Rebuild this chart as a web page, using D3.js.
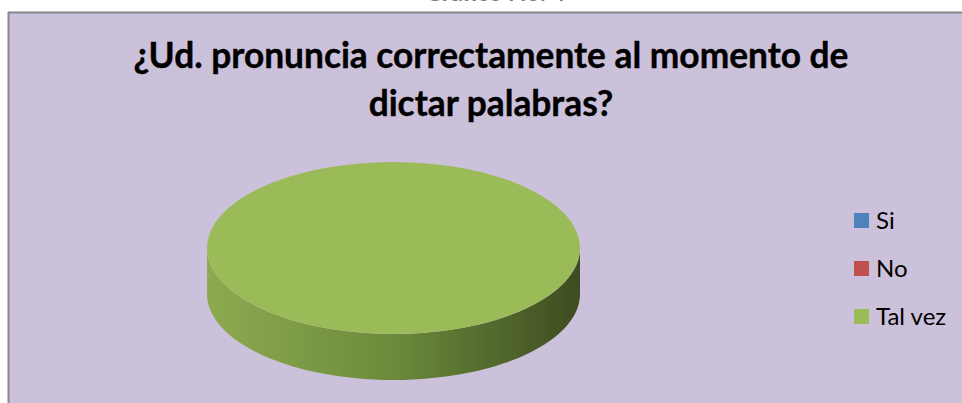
<!DOCTYPE html>
<html>
<head>
<meta charset="utf-8">
<script src="https://cdn.jsdelivr.net/npm/d3@7"></script>
<style>
  body { margin: 0; background: #fff; }
  svg { display: block; }
</style>
</head>
<body>
<svg></svg>
<script>
var width = 962;
var height = 403;

var categories = ['Si', 'No', 'Tal vez'];
var values = [0, 0, 100];
var colors = ['#4F81BD', '#C0504D', '#9BBB59'];
var titleLines = ['¿Ud. pronuncia correctamente al momento de', 'dictar palabras?'];
var caption = 'Gráfico No. 4';

var svg = d3.select('svg')
			.attr('width', width)
			.attr('height', height);

// caption above the frame, mostly cut off by the page edge
svg.append('text')
  .attr('x', 495)
  .attr('y', 0.5)
  .attr('text-anchor', 'middle')
  .attr('font-family', 'Lato, sans-serif')
  .attr('font-weight', 'bold')
  .attr('font-size', 24)
  .attr('fill', '#777')
  .text(caption);

// chart area
svg.append('rect')
  .attr('x', 8)
  .attr('y', 12)
  .attr('width', width)
  .attr('height', height)
  .attr('fill', '#CCC1DA');
svg.append('line')
  .attr('x1', 8).attr('x2', width)
  .attr('y1', 12.5).attr('y2', 12.5)
  .attr('stroke', '#878787').attr('stroke-width', 2);
svg.append('line')
  .attr('x1', 8.5).attr('x2', 8.5)
  .attr('y1', 12).attr('y2', height)
  .attr('stroke', '#878787').attr('stroke-width', 2);

// title
var title = svg.append('g');
titleLines.forEach((t, i) => {
	title.append('text')
	  .attr('x', 491)
	  .attr('y', 68 + i * 48)
	  .attr('text-anchor', 'middle')
	  .attr('font-family', 'Lato, sans-serif')
	  .attr('font-weight', 'bold')
	  .attr('font-size', 34)
	  .attr('fill', '#000')
	  .attr('stroke', '#000')
	  .attr('stroke-width', 0.4)
	  .text(t);
});
// fit first line to the width it has in the original
var first = title.select('text').node();
var fs = 34 * 715 / first.getComputedTextLength();
title.selectAll('text').attr('font-size', fs);

// 3d pie
var cx = 393.5, cy = 248, rx = 186.5, ry = 86, depth = 46;
var scaleY = ry / rx;

var defs = svg.append('defs');
var grad = defs.append('linearGradient')
  .attr('id', 'side')
  .attr('x1', '0%').attr('x2', '100%')
  .attr('y1', '0%').attr('y2', '0%');
grad.append('stop').attr('offset', '0%').attr('stop-color', '#8EAA50');
grad.append('stop').attr('offset', '50%').attr('stop-color', '#6C8A3B');
grad.append('stop').attr('offset', '100%').attr('stop-color', '#3D4C21');

var pie = d3.pie().sort(null).value(d => d);
var arcs = pie(values);

var arc = d3.arc().innerRadius(0).outerRadius(rx);

// side wall of the front half (only the full slice has one here)
arcs.forEach((a, i) => {
	if(a.endAngle - a.startAngle <= 0) return;
	var p = d3.path();
	p.moveTo(cx - rx, cy);
	p.lineTo(cx - rx, cy + depth);
	var n = 60;
	for(var k = 0; k <= n; k++) {
		var t = Math.PI - Math.PI * k / n;
		p.lineTo(cx + rx * Math.cos(t), cy + depth + ry * Math.sin(t));
	}
	p.lineTo(cx + rx, cy);
	for(var k = 0; k <= n; k++) {
		var t = Math.PI * k / n;
		p.lineTo(cx + rx * Math.cos(t), cy + ry * Math.sin(t));
	}
	p.closePath();
	svg.append('path')
	  .attr('d', p.toString())
	  .attr('fill', 'url(#side)');
});

// top face
svg.append('g')
  .attr('transform', `translate(${cx}, ${cy}) scale(1, ${scaleY})`)
  .selectAll('path')
  .data(arcs.filter(a => a.endAngle > a.startAngle))
  .enter()
  .append('path')
    .attr('d', arc)
    .attr('fill', d => colors[d.index]);

// legend
var legend = svg.append('g')
  .selectAll('g')
  .data(categories)
  .enter()
  .append('g')
    .attr('transform', (d, i) => `translate(854, ${213 + i * 48})`);
legend.append('rect')
  .attr('width', 15)
  .attr('height', 15)
  .attr('fill', (d, i) => colors[i]);
legend.append('text')
  .attr('x', 22)
  .attr('y', 16)
  .attr('font-family', 'Lato, sans-serif')
  .attr('font-size', 24)
  .attr('fill', '#000')
  .text(d => d);
</script>
</body>
</html>
